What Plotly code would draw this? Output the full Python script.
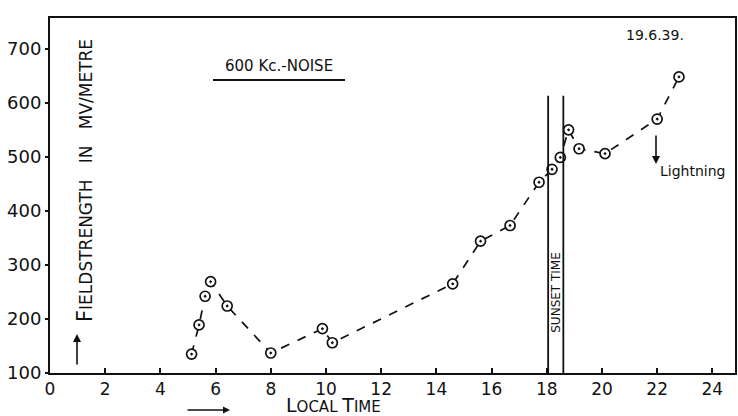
import plotly.graph_objects as go

# Data (19.6.39, 600 Kc. noise)
local_time = [5.13, 5.40, 5.62, 5.82, 6.42, 8.0, 9.87, 10.23, 14.59, 15.6, 16.67,
              17.72, 18.19, 18.49, 18.79, 19.17, 20.11, 22.0, 22.79]
fieldstrength = [135, 189, 242, 269, 224, 137, 182, 156, 265, 344, 373,
                 453, 477, 499, 550, 515, 506, 570, 648]

x_ticks = [0, 2, 4, 6, 8, 10, 12, 14, 16, 18, 20, 22, 24]
y_ticks = [100, 200, 300, 400, 500, 600, 700]
sunset_band = [18.05, 18.6]
sunset_top = 613

FONT = "DejaVu Sans"
INK = "#111111"

fig = go.Figure()
fig.add_trace(go.Scatter(
    x=local_time, y=fieldstrength, mode="lines+markers",
    line=dict(color=INK, width=1.7, dash="dash"),
    marker=dict(symbol="circle-dot", size=10, color="white",
                line=dict(color=INK, width=1.7)),
    showlegend=False, hoverinfo="x+y"))

def P(px, py):
    return (px - 50) / 685, (373 - py) / 355

shapes = []
for xs in sunset_band:
    shapes.append(dict(type="line", xref="x", yref="y", x0=xs, x1=xs,
                       y0=100, y1=sunset_top, line=dict(color=INK, width=1.8)))
# underline of the title
ux0, uy = P(213, 80)
ux1, _ = P(345, 80)
shapes.append(dict(type="line", xref="paper", yref="paper",
                   x0=ux0, x1=ux1, y0=uy, y1=uy, line=dict(color=INK, width=2)))

def label(text, px, py, size, angle=0):
    x, y = P(px, py)
    return dict(text=text, x=x, y=y, xref="paper", yref="paper", showarrow=False,
                xanchor="center", yanchor="middle", textangle=angle,
                font=dict(family=FONT, size=size, color=INK))

def arrow(px, py, ax, ay, width=1.6):
    x, y = P(px, py)
    return dict(text="", x=x, y=y, xref="paper", yref="paper", ax=ax, ay=ay,
                showarrow=True, arrowhead=2, arrowsize=1, arrowwidth=width,
                arrowcolor=INK)

annotations = [
    label("600 Kc.-NOISE", 279, 66, 15),
    label("19.6.39.", 655, 35, 14),
    label("Lightning", 692, 171, 14),
    arrow(656, 164, 0, -30),
    label("SUNSET TIME", 0, 292, 12, -90),
    label("<span style='font-size:21px'>F</span>IELDSTRENGTH   IN   MV/METRE", 85, 181, 17, -90),
    arrow(77, 334, 0, 32),
    label("<span style='font-size:19px'>L</span>OCAL <span style='font-size:19px'>T</span>IME",
          333, 405, 15),
    arrow(230, 410, -44, 0, 1.4),
]
# centre the SUNSET TIME label between the two lines
annotations[4]["x"] = sum(sunset_band) / 2
annotations[4]["xref"] = "x"

fig.update_layout(
    width=738, height=416,
    margin=dict(l=50, r=3, t=18, b=43),
    paper_bgcolor="white", plot_bgcolor="white",
    font=dict(family=FONT, color=INK),
    shapes=shapes, annotations=annotations,
    xaxis=dict(range=[0, 24.82], tickvals=x_ticks, ticktext=[str(t) for t in x_ticks],
               automargin=False,
               showgrid=False, zeroline=False, showline=True, linecolor=INK,
               linewidth=2, mirror=True, ticks="inside", ticklen=5, tickwidth=2,
               tickcolor=INK, tickfont=dict(family=FONT, size=17, color=INK)),
    yaxis=dict(range=[100, 757], tickvals=y_ticks, ticktext=[str(t) for t in y_ticks],
               automargin=False,
               showgrid=False, zeroline=False, showline=True, linecolor=INK,
               linewidth=2, mirror=True, ticks="outside", ticklen=3, tickwidth=1.5,
               tickcolor=INK, tickfont=dict(family=FONT, size=18, color=INK)),
)

fig.write_html("out.html", config={"displayModeBar": False},
               post_script="document.body.style.margin='0';")
